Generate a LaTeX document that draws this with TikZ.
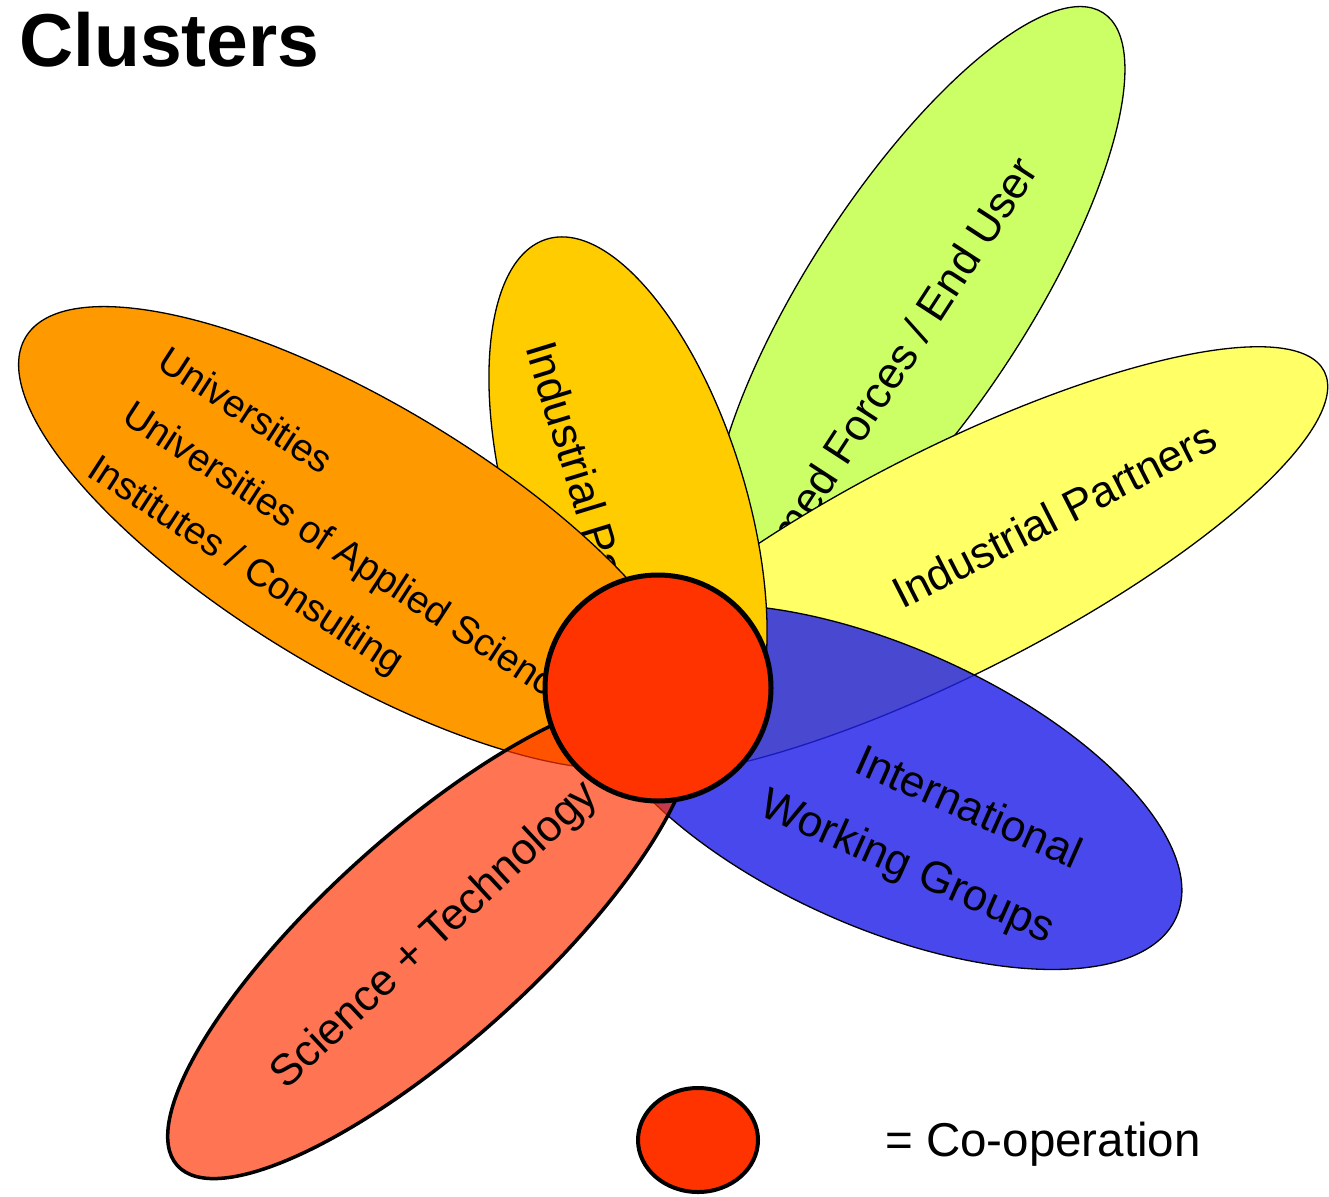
\documentclass[tikz,border=0pt]{standalone}
\usepackage{fontspec}
\setmainfont{Liberation Sans}
\definecolor{cgreen}{HTML}{CCFF66}
\definecolor{cgold}{HTML}{FFCC00}
\definecolor{corange}{HTML}{FF9900}
\definecolor{cyellow}{HTML}{FFFF66}
\definecolor{cblue}{HTML}{2020E8}
\definecolor{cred}{HTML}{FF3300}
\begin{document}
\begin{tikzpicture}[x=1pt,y=-1pt,
  petal/.style={draw=black, line width=1.3pt},
  lbl/.style={font=\fontsize{44}{53}\selectfont, inner sep=0pt},
  lbls/.style={font=\fontsize{38.5}{46}\selectfont, inner sep=0pt}]
\useasboundingbox (0,0) rectangle (1329,1196);
\fill[white] (0,0) rectangle (1329,1196);
% green petal
\draw[petal, fill=cgreen, rotate around={57:(918,298)}] (918,298) ellipse [x radius=340, y radius=110];
\node[lbl, rotate=57, anchor=base east] (tgreen) at (1040,170) {Armed Forces / End User};
% yellow petal
\draw[petal, fill=cyellow, rotate around={27:(950,562)}] (950,562) ellipse [x radius=420, y radius=112];
\node[lbl, rotate=27, anchor=base west] (tyellow) at (902,610) {Industrial Partners};
% blue petal
\draw[petal, fill=cblue, fill opacity=0.82, rotate around={-24:(884,787)}] (884,787) ellipse [x radius=320, y radius=140];
\node[lbl, rotate=-24, anchor=base west] (tblue1) at (852,771) {International};
\node[lbl, rotate=-24, anchor=base west] (tblue2) at (757,814) {Working Groups};
% gold petal
\draw[petal, fill=cgold, rotate around={107:(628,505)}] (628,505) ellipse [x radius=278, y radius=118];
\node[lbl, rotate=-73, anchor=base west] (tgold) at (525,347) {Industrial Partners};
% orange petal
\draw[petal, fill=corange, rotate around={-31:(360,538)}] (360,538) ellipse [x radius=390, y radius=134];
\node[lbls, rotate=-33, anchor=base west] (tor1) at (155,367) {Universities};
\node[lbls, rotate=-33, anchor=base west] (tor2) at (120,421) {Universities of Applied Sciences};
\node[lbls, rotate=-33, anchor=base west] (tor3) at (85,475) {Institutes / Consulting};
% red petal
\draw[draw=black, line width=3.5pt, fill=cred, fill opacity=0.68, rotate around={42:(430,938)}] (430,938) ellipse [x radius=340, y radius=105];
\node[lbl, rotate=43, anchor=base west] (tred) at (286,1091) {Science + Technology};
% centre
\draw[line width=5pt, fill=cred] (658,688) circle [radius=113];
% legend
\draw[line width=4pt, fill=cred] (698,1140) ellipse [x radius=60, y radius=52];
\node[font=\fontsize{47.5}{56}\selectfont, anchor=base west, inner sep=0pt] (legtxt) at (885,1156) {= Co-operation};
% title
\node[font=\bfseries\fontsize{75}{82}\selectfont, anchor=base west, inner sep=0pt] (title) at (19,67) {Clusters};
\end{tikzpicture}
\end{document}
